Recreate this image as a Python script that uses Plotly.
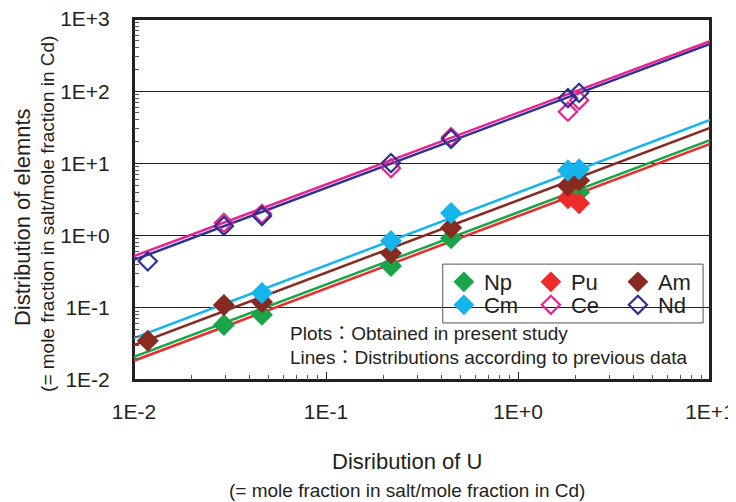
import plotly.graph_objects as go

# ---------------- data ----------------
x_tick_vals = [0.01, 0.1, 1, 10]
x_tick_text = ["1E-2", "1E-1", "1E+0", "1E+1"]
y_tick_vals = [0.01, 0.1, 1, 10, 100, 1000]
y_tick_text = ["1E-2", "1E-1", "1E+0", "1E+1", "1E+2", "1E+3"]

# measured points (distribution of U, distribution of element)
np_x = [0.0294, 0.0464, 0.218, 0.448, 2.08]
np_y = [0.058, 0.080, 0.38, 0.92, 4.0]
pu_x = [1.82, 2.08]
pu_y = [3.3, 2.8]
am_x = [0.0118, 0.0294, 0.0464, 0.218, 0.448, 1.82, 2.08]
am_y = [0.035, 0.109, 0.12, 0.57, 1.28, 4.9, 5.8]
cm_x = [0.0464, 0.218, 0.448, 1.82, 2.08]
cm_y = [0.16, 0.84, 2.06, 8.0, 8.3]
ce_x = [0.0294, 0.0464, 0.218, 0.448, 1.82, 2.08]
ce_y = [1.50, 1.99, 8.6, 23.0, 52.0, 75.0]
nd_x = [0.0118, 0.0294, 0.0464, 0.218, 0.448, 1.82, 2.08]
nd_y = [0.44, 1.36, 1.87, 10.1, 21.8, 80.0, 95.0]

# lines according to previous data (values at the ends of the x range)
line_x = [0.01, 10]
np_line = [0.021, 21.0]
pu_line = [0.0185, 18.6]
am_line = [0.0305, 31.0]
cm_line = [0.038, 40.0]
ce_line = [0.52, 495.0]
nd_line = [0.46, 451.0]

# ---------------- style ----------------
FONT = "Liberation Sans, Arial, Noto Sans CJK JP, sans-serif"
TXT = "#231F20"
colors = {
    "Np": "#1BA54B",
    "Pu": "#EE2A2A",
    "Am": "#862A22",
    "Cm": "#15B4EC",
    "Ce": "#E8238F",
    "Nd": "#2E3192",
}

fig = go.Figure()

lines = [("Np", np_line), ("Pu", pu_line), ("Am", am_line),
         ("Cm", cm_line), ("Nd", nd_line), ("Ce", ce_line)]
for name, ly in lines:
    fig.add_trace(go.Scatter(x=line_x, y=ly, mode="lines",
                             line=dict(color=colors[name], width=2.5),
                             showlegend=False, hoverinfo="skip"))

filled = [("Np", np_x, np_y, "legend"), ("Pu", pu_x, pu_y, "legend"),
          ("Am", am_x, am_y, "legend"), ("Cm", cm_x, cm_y, "legend2")]
for name, xs, ys, lg in filled:
    fig.add_trace(go.Scatter(x=xs, y=ys, mode="markers", name=name, legend=lg,
                             marker=dict(symbol="diamond", size=17,
                                         color=colors[name],
                                         line=dict(width=0))))

opened = [("Ce", ce_x, ce_y), ("Nd", nd_x, nd_y)]
for name, xs, ys in opened:
    fig.add_trace(go.Scatter(x=xs, y=ys, mode="markers", name=name, legend="legend2",
                             marker=dict(symbol="diamond-open", size=14,
                                         color=colors[name],
                                         line=dict(width=2.2, color=colors[name]))))

axis_common = dict(
    type="log", automargin=False, ticklabeloverflow="allow",
    showline=True, linecolor=TXT, linewidth=2, mirror=True,
    ticks="inside", ticklen=8, tickcolor=TXT, tickwidth=1,
    tickfont=dict(family=FONT, size=21, color=TXT),
    zeroline=False,
    minor=dict(ticks="inside", ticklen=5, tickcolor="#555", dtick="D1", showgrid=False),
)

fig.update_xaxes(**axis_common, range=[-2, 1], tickmode="array",
                 tickvals=x_tick_vals, ticktext=x_tick_text,
                 showgrid=False, ticklabelstandoff=12)
fig.update_yaxes(**axis_common, range=[-2, 3], tickmode="array",
                 tickvals=y_tick_vals, ticktext=y_tick_text,
                 showgrid=True, gridcolor=TXT, gridwidth=1, ticklabelstandoff=18)

legend_common = dict(
    orientation="h", xanchor="left", yanchor="middle",
    font=dict(family=FONT, size=22, color=TXT),
    bgcolor="rgba(0,0,0,0)", borderwidth=0,
    entrywidth=42, entrywidthmode="pixels",
    itemwidth=30, tracegroupgap=0,
)

fig.update_layout(
    width=728, height=494,
    margin=dict(l=126, r=26, t=11, b=122, autoexpand=False),
    paper_bgcolor="white", plot_bgcolor="white",
    font=dict(family=FONT, color=TXT),
    legend=dict(**legend_common, x=0.538, y=0.2715),
    legend2=dict(**legend_common, x=0.538, y=0.2078),
    shapes=[
        dict(type="rect", xref="paper", yref="paper",
             x0=0.536, x1=0.988, y0=0.158, y1=0.321,
             line=dict(color="#555", width=1), fillcolor="rgba(0,0,0,0)"),
        dict(type="rect", xref="paper", yref="paper", layer="below",
             x0=0, x1=1, y0=0, y1=1,
             line=dict(color=TXT, width=2), fillcolor="rgba(0,0,0,0)"),
    ],
    annotations=[
        dict(text="Plots：Obtained in present study", xref="paper", yref="paper",
             x=0.268, y=0.130, xanchor="left", yanchor="middle", showarrow=False,
             font=dict(family=FONT, size=19, color=TXT)),
        dict(text="Lines：Distributions according to previous data", xref="paper", yref="paper",
             x=0.268, y=0.061, xanchor="left", yanchor="middle", showarrow=False,
             font=dict(family=FONT, size=19, color=TXT)),
        dict(text="Distribution of elemnts", xref="paper", yref="paper",
             x=-0.1944, y=0.4515, xanchor="center", yanchor="middle", showarrow=False,
             textangle=-90, font=dict(family=FONT, size=22, color=TXT)),
        dict(text="(= mole fraction in salt/mole fraction in Cd)", xref="paper", yref="paper",
             x=-0.1493, y=0.46, xanchor="center", yanchor="middle", showarrow=False,
             textangle=-90, font=dict(family=FONT, size=19, color=TXT)),
        dict(text="Disribution of U", xref="paper", yref="paper",
             x=0.474, y=-0.227, xanchor="center", yanchor="middle", showarrow=False,
             font=dict(family=FONT, size=22, color=TXT)),
        dict(text="(= mole fraction in salt/mole fraction in Cd)", xref="paper", yref="paper",
             x=0.474, y=-0.305, xanchor="center", yanchor="middle", showarrow=False,
             font=dict(family=FONT, size=19, color=TXT)),
    ],
)

fig.write_html("out.html")
